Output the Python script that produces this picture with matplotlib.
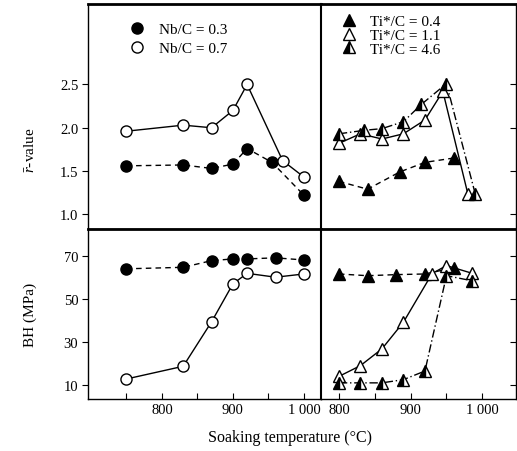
import numpy as np
import matplotlib
matplotlib.use('Agg')
import matplotlib.pyplot as plt

plt.rcParams['font.family'] = ['Liberation Serif', 'DejaVu Serif']
plt.rcParams['mathtext.fontset'] = 'custom'
plt.rcParams['mathtext.rm'] = 'Liberation Serif'
plt.rcParams['mathtext.it'] = 'Liberation Serif:italic'

# Nb steels (left column)
nb03_T_r = [750, 830, 870, 900, 920, 955, 1000]
nb03_r = [1.56, 1.57, 1.53, 1.58, 1.76, 1.60, 1.22]
nb07_T_r = [750, 830, 870, 900, 920, 970, 1000]
nb07_r = [1.96, 2.03, 2.00, 2.20, 2.50, 1.62, 1.43]

nb03_T_bh = [750, 830, 870, 900, 920, 960, 1000]
nb03_bh = [64.0, 64.7, 67.8, 68.6, 68.6, 69.1, 68.1]
nb07_T_bh = [750, 830, 870, 900, 920, 960, 1000]
nb07_bh = [12.8, 18.7, 39.4, 57.0, 61.9, 60.1, 61.6]

# Ti steels (right column)
ti04_T_r = [800, 840, 885, 920, 960]
ti04_r = [1.38, 1.29, 1.49, 1.60, 1.65]
ti11_T_r = [800, 830, 860, 890, 920, 945, 980]
ti11_r = [1.82, 1.93, 1.87, 1.93, 2.09, 2.42, 1.23]
ti46_T_r = [800, 835, 860, 890, 915, 950, 990]
ti46_r = [1.93, 1.97, 1.99, 2.07, 2.27, 2.51, 1.24]

ti04_T_bh = [800, 840, 880, 920, 960]
ti04_bh = [61.6, 60.8, 61.3, 61.6, 64.5]
ti11_T_bh = [800, 830, 860, 890, 930, 950, 985]
ti11_bh = [14.0, 19.0, 26.8, 39.2, 61.8, 65.5, 62.0]
ti46_T_bh = [800, 830, 860, 890, 920, 950, 985]
ti46_bh = [11.0, 11.0, 11.0, 12.5, 16.5, 60.8, 58.5]

fig = plt.figure(figsize=(5.17, 4.52), dpi=100)
W, H = 517.0, 452.0
xl, xm, xr = 88, 321, 516
yt, ym, yb = 5, 230, 400

def frac_box(x0, x1, y0, y1):
    return [x0 / W, 1 - y1 / H, (x1 - x0) / W, (y1 - y0) / H]

ax_tl = fig.add_axes(frac_box(xl, xm, yt, ym))
ax_tr = fig.add_axes(frac_box(xm, xr, yt, ym))
ax_bl = fig.add_axes(frac_box(xl, xm, ym, yb))
ax_br = fig.add_axes(frac_box(xm, xr, ym, yb))

ms = 8
circ_f = dict(marker='o', ms=ms, mfc='black', mec='black', color='black', lw=1.0)
circ_o = dict(marker='o', ms=ms, mfc='white', mec='black', color='black', lw=1.0)
tri_f = dict(marker='^', ms=ms + 1, mfc='black', mec='black', color='black', lw=1.0)
tri_o = dict(marker='^', ms=ms + 1, mfc='white', mec='black', color='black', lw=1.0)
tri_h = dict(marker='^', ms=ms + 1, mfc='black', mfcalt='white', fillstyle='left',
             mec='black', color='black', lw=1.0)

ax_tl.plot(nb03_T_r, nb03_r, ls=(0, (4, 3)), label='Nb/C = 0.3', **circ_f)
ax_tl.plot(nb07_T_r, nb07_r, ls='-', label='Nb/C = 0.7', **circ_o)
ax_bl.plot(nb03_T_bh, nb03_bh, ls=(0, (4, 3)), **circ_f)
ax_bl.plot(nb07_T_bh, nb07_bh, ls='-', **circ_o)

ax_tr.plot(ti04_T_r, ti04_r, ls=(0, (4, 3)), label='Ti*/C = 0.4', **tri_f)
ax_tr.plot(ti11_T_r, ti11_r, ls='-', label='Ti*/C = 1.1', **tri_o)
ax_tr.plot(ti46_T_r, ti46_r, ls=(0, (6, 2, 1, 2)), label='Ti*/C = 4.6', **tri_h)
ax_br.plot(ti04_T_bh, ti04_bh, ls=(0, (4, 3)), **tri_f)
ax_br.plot(ti11_T_bh, ti11_bh, ls='-', **tri_o)
ax_br.plot(ti46_T_bh, ti46_bh, ls=(0, (6, 2, 1, 2)), **tri_h)

for ax in (ax_tl, ax_bl):
    ax.set_xlim(696, 1024)
for ax in (ax_tr, ax_br):
    ax.set_xlim(775, 1047)
for ax in (ax_tl, ax_tr):
    ax.set_ylim(0.83, 3.43)
    ax.set_yticks([1.0, 1.5, 2.0, 2.5])
for ax in (ax_bl, ax_br):
    ax.set_ylim(3.5, 82.5)
    ax.set_yticks([10, 30, 50, 70])

ax_tl.set_yticklabels(['1.0', '1.5', '2.0', '2.5'])
ax_bl.set_yticklabels(['10', '30', '50', '70'])

ax_bl.set_xticks([750, 800, 850, 900, 950, 1000])
ax_bl.set_xticklabels(['', '800', '', '900', '', '1 000'])
ax_br.set_xticks([800, 850, 900, 950, 1000])
ax_br.set_xticklabels(['800', '', '900', '', '1 000'])

for ax in (ax_tl, ax_tr, ax_bl, ax_br):
    for s in ax.spines.values():
        s.set_linewidth(1.0)
    ax.tick_params(labelsize=10.5, length=4, width=0.8, pad=3)
for ax in (ax_tl, ax_tr):
    ax.set_xticks([])
    ax.spines['top'].set_linewidth(2.0)
for ax in (ax_bl, ax_br):
    ax.spines['top'].set_linewidth(2.0)
    ax.tick_params(axis='x', direction='in')
for ax in (ax_tl, ax_bl):
    ax.tick_params(axis='y', direction='out')
for ax in (ax_tr, ax_br):
    ax.yaxis.tick_right()
    ax.tick_params(axis='y', direction='in', labelright=False)
    ax.spines['left'].set_linewidth(1.5)

ax_tl.legend(loc='upper left', bbox_to_anchor=(0.12, 0.98), frameon=False,
             fontsize=11, handlelength=1.0, handletextpad=0.9, labelspacing=0.35)
ax_tr.legend(loc='upper left', bbox_to_anchor=(0.05, 1.0), frameon=False,
             fontsize=11, handlelength=1.0, handletextpad=0.9, labelspacing=0.0,
             borderaxespad=0.3)
for leg in (ax_tl.get_legend(), ax_tr.get_legend()):
    for line in leg.get_lines():
        line.set_linestyle('none')

fig.text(30 / W, 1 - 150 / H, r'$\bar{r}$-value', rotation=90, ha='center', va='center', fontsize=11)
fig.text(30 / W, 1 - 315 / H, 'BH (MPa)', rotation=90, ha='center', va='center', fontsize=11)
fig.text(290 / W, 1 - 438 / H, 'Soaking temperature (°C)', ha='center', va='center', fontsize=11.5)

fig.savefig('out.png', dpi=100)
